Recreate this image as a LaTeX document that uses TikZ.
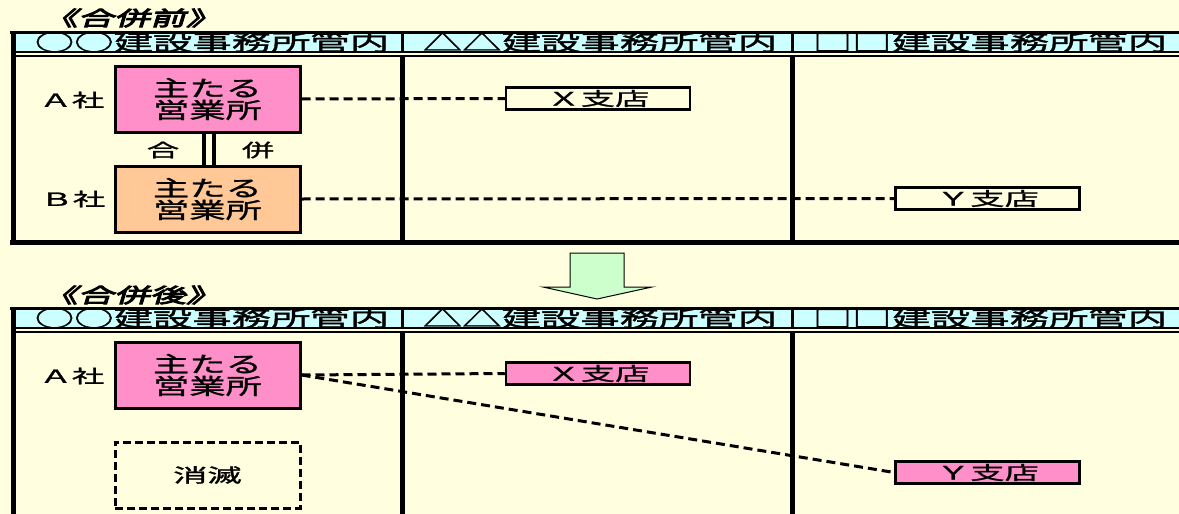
\documentclass[tikz,border=0pt]{standalone}
\usepackage{fontspec}
\newfontfamily\hdrfont[FakeStretch=1.75,FakeBold=1.5]{Noto Sans CJK JP}
\newfontfamily\boxfont[FakeStretch=1.65,FakeBold=1.2]{Noto Sans CJK JP}
\newfontfamily\brfont[FakeStretch=1.85,FakeBold=1.2]{Noto Sans CJK JP}
\newfontfamily\lblfont[FakeStretch=1.8,FakeBold=1.5]{Noto Sans CJK JP}
\newfontfamily\ttlfont[FakeStretch=1.8,FakeSlant=0.3,FakeBold=5]{Noto Sans CJK JP}
\definecolor{bgyellow}{HTML}{FFFFE0}
\definecolor{hdrcyan}{HTML}{CCFFFF}
\definecolor{mainpink}{HTML}{FF8FC8}
\definecolor{mainorange}{HTML}{FFC896}
\definecolor{arrowgreen}{HTML}{CCFFCC}
\begin{document}
\begin{tikzpicture}[x=1pt,y=-1pt,
  hdr/.style={font=\hdrfont\fontsize{22.5}{24}\selectfont, inner sep=0pt},
  ttl/.style={font=\ttlfont\fontsize{20}{20}\selectfont, inner sep=0pt},
  lbl/.style={font=\lblfont\fontsize{18}{18}\selectfont, inner sep=0pt},
  mainbox/.style={draw=black, line width=3pt, minimum width=185pt, minimum height=66pt,
    inner sep=0pt, align=center, font=\boxfont\fontsize{22}{22}\selectfont},
  branchbox/.style={draw=black, line width=2.5pt, minimum width=184pt, minimum height=22pt,
    inner sep=0pt, font=\brfont\fontsize{18.5}{18.5}\selectfont},
  gonebox/.style={draw=black, line width=3pt, dash pattern=on 8pt off 4pt,
    minimum width=185pt, minimum height=66pt, inner sep=0pt,
    font=\lblfont\fontsize{19}{19}\selectfont},
  link/.style={line width=3pt, dash pattern=on 9pt off 5pt},
  rule/.style={black, line width=#1}]
\useasboundingbox (0,0) rectangle (1179,514);
\clip (0,0) rectangle (1179,514);
\fill[bgyellow] (0,0) rectangle (1179,514);

% ===== frames (top and bottom) =====
\foreach \dy/\ybot in {0/245, 276/514} {
  \fill[hdrcyan] (13,33+\dy) rectangle (1179,51+\dy);
  \draw[rule=3pt] (10,32+\dy) -- (1179,32+\dy);
  \draw[rule=2pt] (13,52+\dy) -- (1179,52+\dy);
  \draw[rule=2pt] (13,55.5+\dy) -- (1179,55.5+\dy);
  \draw[rule=5pt] (13,30.5+\dy) -- (13,\ybot);
  \draw[rule=3pt] (402,33+\dy) -- (402,51+\dy);
  \draw[rule=4.5pt] (402.5,56.5+\dy) -- (402.5,\ybot);
  \draw[rule=3pt] (792,33+\dy) -- (792,51+\dy);
  \draw[rule=4.5pt] (792.5,56.5+\dy) -- (792.5,\ybot);
}
\draw[rule=5pt] (10,242.5) -- (1179,242.5);

% ===== headers =====
\node[hdr] (h1) at (212,42) {○○建設事務所管内};
\node[hdr] (h2) at (600,42) {△△建設事務所管内};
\node[hdr] (h3) at (990,42) {□□建設事務所管内};
\node[hdr] (h4) at (212,318) {○○建設事務所管内};
\node[hdr] (h5) at (600,318) {△△建設事務所管内};
\node[hdr] (h6) at (990,318) {□□建設事務所管内};

% ===== titles =====
\node[ttl] (t1) at (132,18) {《合併前》};
\node[ttl] (t2) at (132,295) {《合併後》};

% ===== before merger =====
\node[lbl] (la1) at (72,100) {Ａ社};
\node[lbl] (lb1) at (73,199) {Ｂ社};
\node[mainbox, fill=mainpink] (A1) at (207.5,99) {主たる\\営業所};
\node[mainbox, fill=mainorange] (B1) at (207.5,199) {主たる\\営業所};
\node[branchbox] (X1) at (598,98.5) {Ｘ支店};
\node[branchbox] (Y1) at (987.5,198.5) {Ｙ支店};
\draw[rule=4pt] ([xshift=-3.5pt]A1.south) -- ([xshift=-3.5pt]B1.north);
\draw[rule=4pt] ([xshift=6pt]A1.south) -- ([xshift=6pt]B1.north);
\node[lbl] (m1) at (163,150) {合};
\node[lbl] (m2) at (258,150) {併};
\draw[link] (A1.east) -- (X1.west);
\draw[link] (B1.east) -- (Y1.west);

% ===== arrow =====
\draw[black, line width=1pt, fill=arrowgreen]
  (570,253) -- (624,253) -- (624,287) -- (652,287) -- (597,299) -- (543,287) -- (570,287) -- cycle;

% ===== after merger =====
\node[lbl] (la2) at (72,376) {Ａ社};
\node[mainbox, fill=mainpink] (A2) at (207.5,375) {主たる\\営業所};
\node[gonebox] (G2) at (207.5,475) {消滅};
\node[branchbox, fill=mainpink] (X2) at (598,373.5) {Ｘ支店};
\node[branchbox, fill=mainpink] (Y2) at (987.5,472.5) {Ｙ支店};
\draw[link] (A2.east) -- (X2.west);
\draw[link] (A2.east) -- (Y2.west);
\end{tikzpicture}
\end{document}
